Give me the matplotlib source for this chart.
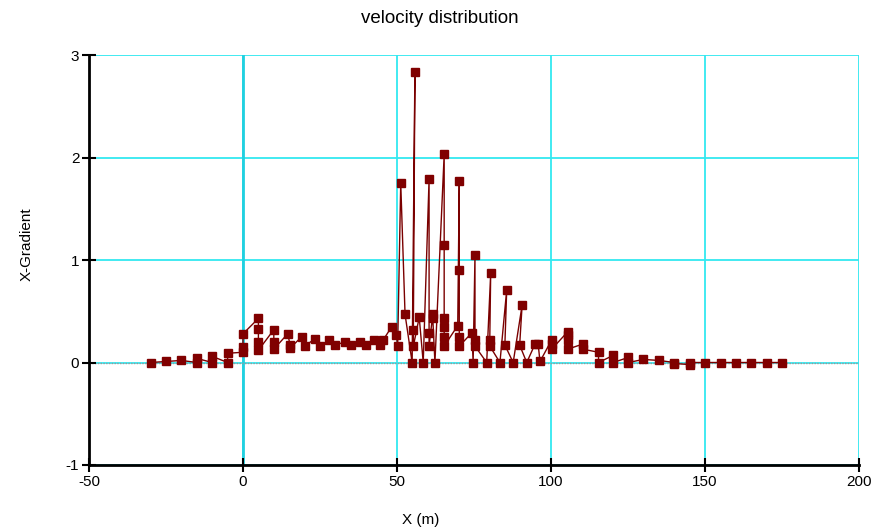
import matplotlib
matplotlib.use('Agg')
import matplotlib.pyplot as plt

plt.rcParams['font.family'] = ['Liberation Sans', 'DejaVu Sans']
plt.rcParams['axes.unicode_minus'] = False

# puntos en el orden en que se dibujan
x_vals = [-30, -25, -20, -15, -15, -10, -10, -5, -5, 0, 0, 0,
          5, 5, 5, 5, 10, 10, 10, 14.5, 15.3, 15.3, 19, 20, 23.3, 25, 28, 30,
          33, 35, 38, 40, 42.4, 44.4, 45.5, 48.3, 49.8, 50.2,
          51.2, 52.6, 54.9, 55.8, 55.3, 55.3, 57.2, 58.5,
          60.4, 60.4, 60.4, 61.6, 61.6, 62.3,
          65.3, 65.3, 65.3, 65.3, 65.3, 65.3, 69.7,
          70.2, 70.2, 70.2, 70.2, 74.3, 74.7,
          75.3, 75.3, 75.3, 79.1, 80.4, 80.1, 80.1, 83.4,
          85.6, 85.0, 87.7, 90.6, 89.8, 92.1, 94.8, 95.8, 96.4,
          100.2, 100.2, 100.2, 105.4, 105.4, 105.4, 105.4, 110.3, 110.3,
          115.4, 115.4, 120.2, 120.2, 125.1, 125.1, 130, 135, 140, 140,
          145, 145, 150, 155, 160, 165, 170, 175]
y_vals = [0.0, 0.01, 0.02, 0.0, 0.04, 0.0, 0.06, 0.0, 0.09, 0.1, 0.15, 0.28,
          0.43, 0.33, 0.2, 0.12, 0.32, 0.2, 0.13, 0.28, 0.17, 0.14, 0.25, 0.16, 0.23, 0.16, 0.22, 0.17,
          0.2, 0.17, 0.2, 0.17, 0.22, 0.17, 0.22, 0.35, 0.27, 0.16,
          1.75, 0.47, 0.0, 2.83, 0.32, 0.16, 0.44, 0.0,
          1.79, 0.29, 0.16, 0.47, 0.43, 0.0,
          2.03, 1.15, 0.43, 0.35, 0.25, 0.16, 0.36,
          1.77, 0.9, 0.25, 0.16, 0.29, 0.0,
          1.05, 0.22, 0.16, 0.0, 0.87, 0.22, 0.16, 0.0,
          0.71, 0.17, 0.0, 0.56, 0.17, 0.0, 0.18, 0.18, 0.01,
          0.22, 0.18, 0.13, 0.3, 0.27, 0.22, 0.13, 0.18, 0.13,
          0.1, 0.0, 0.07, 0.0, 0.05, 0.0, 0.03, 0.02, 0.0, -0.01,
          -0.02, 0.0, 0.0, 0.0, 0.0, 0.0, 0.0, 0.0]

x_ticks = [-50, 0, 50, 100, 150, 200]
y_ticks = [-1, 0, 1, 2, 3]

fig = plt.figure(figsize=(8.74, 5.31), dpi=100)
ax = fig.add_axes([0.1018, 0.1243, 0.8812, 0.7721])

ax.set_xlim(-50, 200)
ax.set_ylim(-1, 3)
ax.set_xticks(x_ticks)
ax.set_yticks(y_ticks)

# rejilla cian
for xv in x_ticks:
    ax.axvline(xv, color='#33e8f0', lw=1.3, zorder=1)
for yv in y_ticks:
    ax.axhline(yv, color='#33e8f0', lw=1.3, zorder=1)
ax.axvline(0, color='#20d0e0', lw=2.0, zorder=1)
ax.axhline(0, color='#999999', lw=1.0, ls=(0, (1, 1)), zorder=1.5)

ax.plot(x_vals, y_vals, color='#7a0000', lw=1.0, marker='s', markersize=6.3,
        markerfacecolor='#800000', markeredgecolor='#800000', zorder=3)

for s in ['top', 'right']:
    ax.spines[s].set_visible(False)
for s in ['left', 'bottom']:
    ax.spines[s].set_linewidth(2)
    ax.spines[s].set_color('black')
ax.tick_params(direction='inout', length=10, width=1.5, labelsize=11, pad=2)

fig.text(0.503, 0.965, 'velocity distribution', ha='center', va='center', fontsize=13.5)
fig.text(0.481, 0.02, 'X (m)', ha='center', va='center', fontsize=11)
fig.text(0.031, 0.54, 'X-Gradient', ha='center', va='center', rotation=90, fontsize=11)

fig.savefig('out.png', dpi=100)
